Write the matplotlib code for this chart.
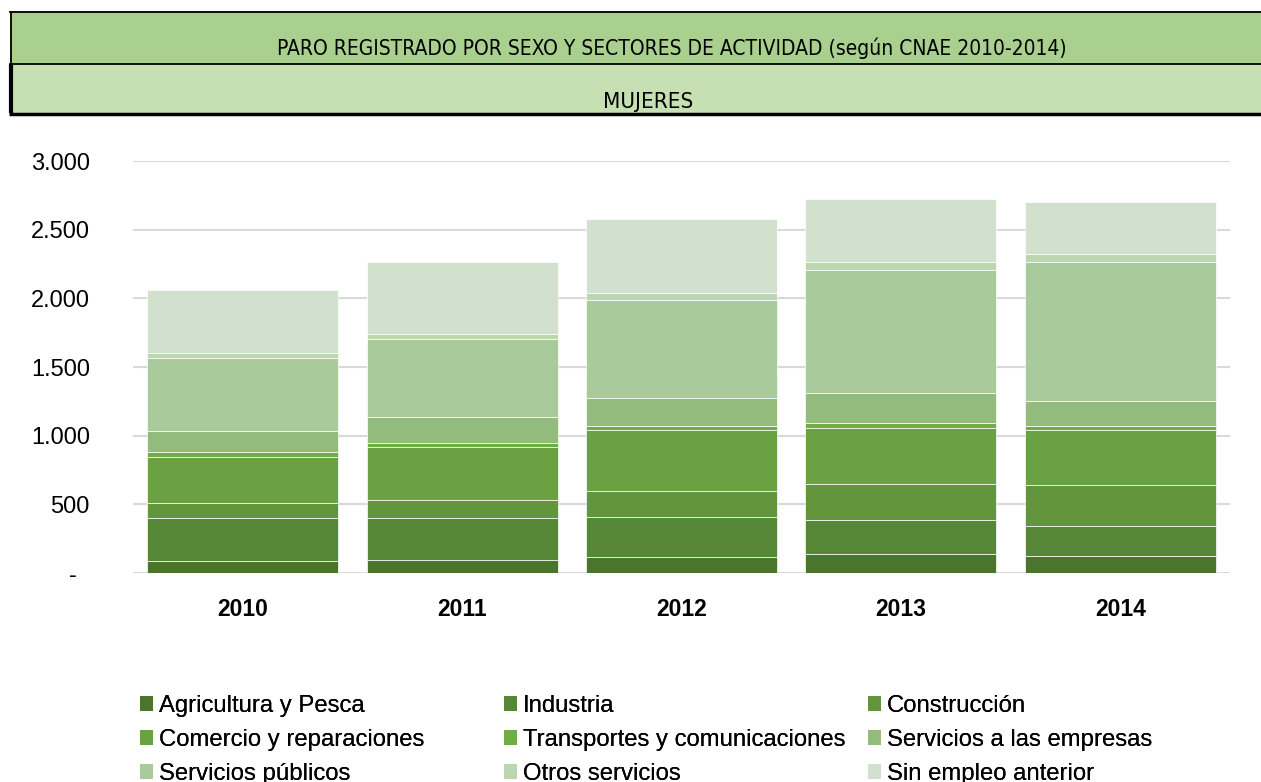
import matplotlib.pyplot as plt
from matplotlib.patches import Rectangle, Patch
from matplotlib.lines import Line2D
from matplotlib.ticker import FuncFormatter

# Data (mujeres, paro registrado)
years = ["2010", "2011", "2012", "2013", "2014"]
sectors = ["Agricultura y Pesca", "Industria", "Construcción",
           "Comercio y reparaciones", "Transportes y comunicaciones",
           "Servicios a las empresas", "Servicios públicos",
           "Otros servicios", "Sin empleo anterior"]
agricultura = [85, 98, 119, 141, 124]
industria = [312, 303, 291, 247, 221]
construccion = [116, 127, 187, 262, 298]
comercio = [335, 386, 442, 408, 396]
transportes = [30, 34, 31, 37, 29]
serv_empresas = [155, 187, 207, 213, 184]
serv_publicos = [530, 566, 708, 901, 1015]
otros = [40, 39, 54, 56, 56]
sin_empleo = [457, 525, 536, 456, 378]

series = [agricultura, industria, construccion, comercio, transportes,
          serv_empresas, serv_publicos, otros, sin_empleo]
colors = ["#4b752c", "#568737", "#62953c", "#6aa243", "#70ad47",
          "#93bc7c", "#a9ca9a", "#bdd6b0", "#d2e1cd"]

plt.rcParams['font.family'] = ['Liberation Sans', 'DejaVu Sans']

fig = plt.figure(figsize=(12.61, 7.82), dpi=100)
W, H = 1261, 782

# header bands
fig.patches.append(Rectangle((10 / W, 1 - 64 / H), 1 - 10 / W, 53 / H,
                             transform=fig.transFigure, facecolor="#a9d08e",
                             edgecolor="none"))
fig.patches.append(Rectangle((10 / W, 1 - 114 / H), 1 - 10 / W, 50 / H,
                             transform=fig.transFigure, facecolor="#c6e0b4",
                             edgecolor="none"))
fig.add_artist(Line2D([10 / W, 1], [1 - 11.5 / H, 1 - 11.5 / H],
                      transform=fig.transFigure, color="black", linewidth=1.3))
fig.add_artist(Line2D([10 / W, 1], [1 - 64 / H, 1 - 64 / H],
                      transform=fig.transFigure, color="black", linewidth=1.3))
fig.add_artist(Line2D([10.5 / W, 10.5 / W], [1 - 64 / H, 1 - 11.5 / H],
                      transform=fig.transFigure, color="black", linewidth=1.3))
fig.add_artist(Line2D([10.5 / W, 10.5 / W], [1 - 113 / H, 1 - 64 / H],
                      transform=fig.transFigure, color="black", linewidth=3,
                      solid_capstyle="butt"))
fig.add_artist(Line2D([9 / W, 1], [1 - 113.5 / H, 1 - 113.5 / H],
                      transform=fig.transFigure, color="black", linewidth=2.5,
                      solid_capstyle="butt"))

title_font = ['DejaVu Sans']
fig.text(672 / W, 1 - 48.5 / H,
         "PARO REGISTRADO POR SEXO Y SECTORES DE ACTIVIDAD (según CNAE 2010-2014)",
         ha="center", va="center", fontsize=15, family=title_font,
         fontstretch="condensed")
fig.text(648 / W, 1 - 101.5 / H, "MUJERES", ha="center", va="center",
         fontsize=16, family=title_font, fontstretch="condensed")

ax = fig.add_axes([133 / W, 1 - 573 / H, (1230 - 133) / W, (573 - 161) / H])

x = range(len(years))
bottom = [0] * len(years)
for name, vals, col in zip(sectors, series, colors):
    ax.bar(x, vals, width=0.87, bottom=bottom, color=col, label=name,
           edgecolor="#ffffff", linewidth=0.5, zorder=3)
    bottom = [b + v for b, v in zip(bottom, vals)]

ax.set_xlim(-0.5, 4.5)
ax.set_ylim(0, 3000)
ax.set_yticks([0, 500, 1000, 1500, 2000, 2500, 3000])
ax.yaxis.set_major_formatter(FuncFormatter(
    lambda v, p: "-  " if v == 0 else f"{int(v):,}".replace(",", ".")))
ax.set_xticks(list(x))
ax.set_xticklabels(years, fontweight="bold")
ax.tick_params(axis="y", length=0, labelsize=17, pad=31)
ax.tick_params(axis="x", length=0, labelsize=16.5, pad=18)
ax.grid(axis="y", color="#d9d9d9", linewidth=1.5, zorder=0)
for s in ax.spines.values():
    s.set_visible(False)

# legend: three fixed columns, row-wise order as in Excel
handles = [Patch(facecolor=c, edgecolor="none") for c in colors]
col_x = [140, 504, 868]
for i in range(3):
    leg = fig.legend(handles[i::3], sectors[i::3], loc="upper left",
                     bbox_to_anchor=(col_x[i] / W, 1 - 695 / H),
                     frameon=False, fontsize=17.2, handlelength=0.55,
                     handleheight=0.55, handletextpad=0.25, labelspacing=0.5,
                     borderaxespad=0, borderpad=0)
    fig.add_artist(leg)

fig.savefig("out.png", dpi=100)
